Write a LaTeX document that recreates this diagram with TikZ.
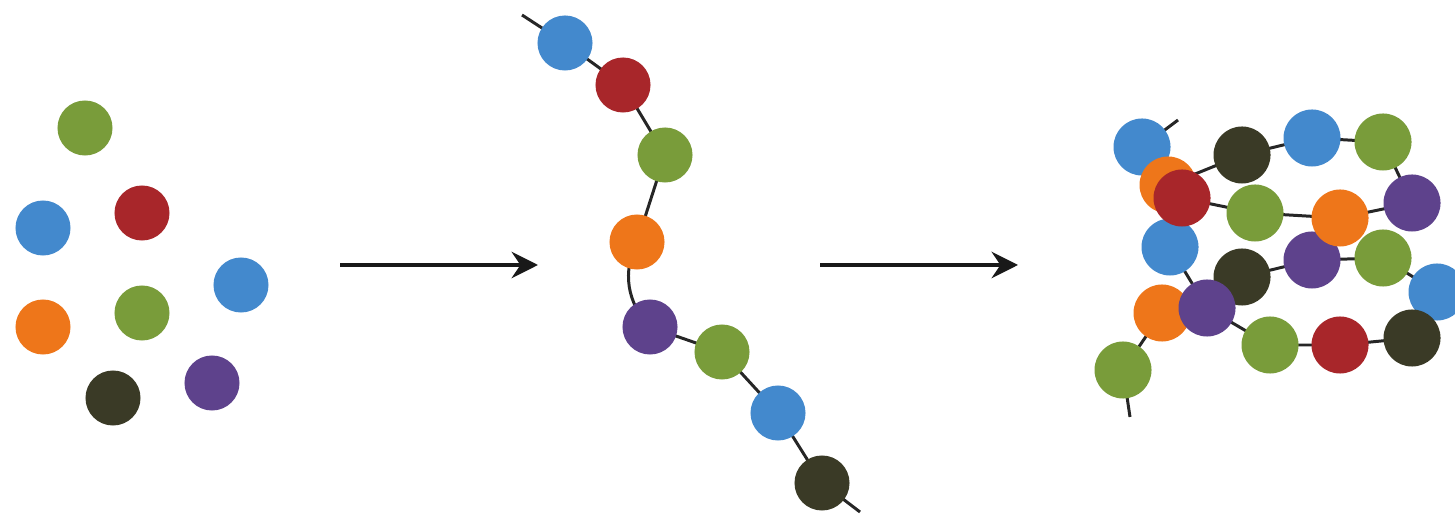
\documentclass[tikz,border=0pt]{standalone}
\usetikzlibrary{arrows.meta,backgrounds}
\definecolor{bblue}{RGB}{67,137,205}
\definecolor{bred}{RGB}{168,38,42}
\definecolor{bgreen}{RGB}{121,156,58}
\definecolor{borange}{RGB}{238,118,26}
\definecolor{bpurple}{RGB}{94,66,140}
\definecolor{bdark}{RGB}{58,58,38}
\tikzset{
  bead/.style={circle, inner sep=0pt, minimum size=0.55cm, fill=#1},
  bigbead/.style={circle, inner sep=0pt, minimum size=0.57cm, fill=#1},
  link/.style={line width=0.85pt, black!85},
  flow/.style={line width=1.2pt, black!90, -{Stealth[length=7.5pt,width=7.5pt,inset=2.5pt]}}
}
\begin{document}
\begin{tikzpicture}[x=0.01cm, y=-0.01cm]
\clip (0,0) rectangle (1455,516);

% free monomers
\node[bead=bgreen]  (l1) at (85,128) {};
\node[bead=bblue]   (l2) at (43,228) {};
\node[bead=bred]    (l3) at (142,213) {};
\node[bead=bblue]   (l4) at (241,285) {};
\node[bead=borange] (l5) at (43,327) {};
\node[bead=bgreen]  (l6) at (142,313) {};
\node[bead=bdark]   (l7) at (113,398) {};
\node[bead=bpurple] (l8) at (212,383) {};

% reaction arrows
\coordinate (a1s) at (340,265);
\coordinate (a1e) at (538,265);
\coordinate (a2s) at (820,265);
\coordinate (a2e) at (1018,265);
\draw[flow] (a1s) -- (a1e);
\draw[flow] (a2s) -- (a2e);

% linear chain
\coordinate (ms) at (522,15);
\coordinate (me) at (860,512);
\node[bead=bblue]   (m1) at (565,43) {};
\node[bead=bred]    (m2) at (623,85) {};
\node[bead=bgreen]  (m3) at (665,155) {};
\node[bead=borange] (m4) at (637,242) {};
\node[bead=bpurple] (m5) at (650,327) {};
\node[bead=bgreen]  (m6) at (722,352) {};
\node[bead=bblue]   (m7) at (778,413) {};
\node[bead=bdark]   (m8) at (822,483) {};
\begin{scope}[on background layer]
  \draw[link] (ms) -- (m1.center) -- (m2.center) -- (m3.center) -- (m4.center);
  \draw[link] (m4.center) to[bend right=35] (m5.center);
  \draw[link] (m5.center) -- (m6.center) -- (m7.center) -- (m8.center) -- (me);
\end{scope}

% folded chain
\coordinate (rs) at (1178,120);
\coordinate (re) at (1130,417);
\node[bigbead=bblue]   (rb1) at (1142,147) {};
\node[bigbead=borange] (ro0) at (1168,185) {};
\node[bigbead=bdark]   (rk1) at (1242,155) {};
\node[bigbead=bblue]   (rb2) at (1312,138) {};
\node[bigbead=bgreen]  (rg1) at (1383,142) {};
\node[bigbead=bpurple] (rp1) at (1412,203) {};
\node[bigbead=bpurple] (rp2) at (1312,260) {};
\node[bigbead=borange] (ro1) at (1340,218) {};
\node[bigbead=bgreen]  (rg2) at (1255,213) {};
\node[bigbead=bblue]   (rb3) at (1170,247) {};
\node[bigbead=bred]    (rr1) at (1182,198) {};
\node[bigbead=bgreen]  (rg3) at (1383,258) {};
\node[bigbead=bblue]   (rb4) at (1437,292) {};
\node[bigbead=bdark]   (rk3) at (1412,338) {};
\node[bigbead=bdark]   (rk2) at (1242,277) {};
\node[bigbead=borange] (ro3) at (1162,313) {};
\node[bigbead=bpurple] (rp3) at (1207,308) {};
\node[bigbead=bgreen]  (rg4) at (1270,345) {};
\node[bigbead=bred]    (rr2) at (1340,345) {};
\node[bigbead=bgreen]  (rg5) at (1123,370) {};
\begin{scope}[on background layer]
  \draw[link] (rs) -- (rb1.center);
  \draw[link] (rb1.center) to[bend right=35] (ro0.center);
  \draw[link] (ro0.center) -- (rk1.center) -- (rb2.center) -- (rg1.center)
    -- (rp1.center) -- (ro1.center) -- (rg2.center) -- (rr1.center)
    -- (rb3.center) -- (rp3.center) -- (rg4.center) -- (rr2.center)
    -- (rk3.center) -- (rb4.center) -- (rg3.center) -- (rp2.center) -- (rk2.center);
  \draw[link] (ro3.center) -- (rg5.center) -- (re);
\end{scope}
\end{tikzpicture}
\end{document}
